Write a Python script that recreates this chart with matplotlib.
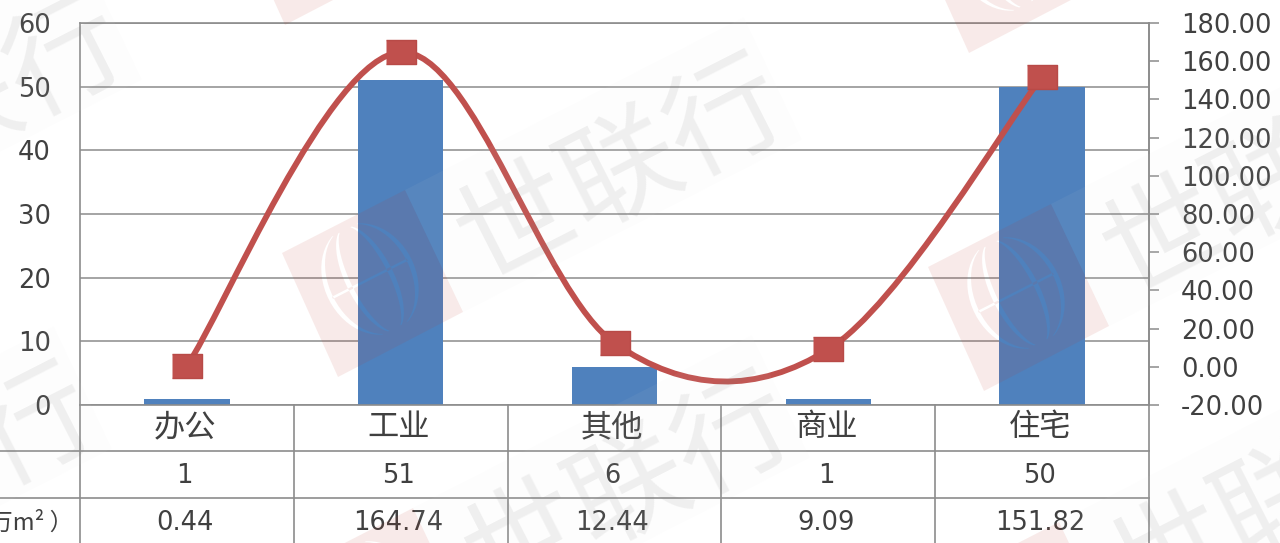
import numpy as np
import matplotlib
matplotlib.use('Agg')
import matplotlib.pyplot as plt
from matplotlib.path import Path
from matplotlib.patches import PathPatch

plt.rcParams['font.family'] = ['DejaVu Sans', 'Noto Sans CJK SC']

categories = ['办公', '工业', '其他', '商业', '住宅']
counts = [1, 51, 6, 1, 50]
areas = [0.44, 164.74, 12.44, 9.09, 151.82]
area_labels = ['0.44', '164.74', '12.44', '9.09', '151.82']
left_ticks = [0, 10, 20, 30, 40, 50, 60]
right_ticks = [-20, 0, 20, 40, 60, 80, 100, 120, 140, 160, 180]
area_title = '成交面积（万m² ）'

W, H = 1280, 543
GRAY = '#8c8c8c'
TEXT = '#404040'
CJK = ['Noto Sans CJK SC', 'DejaVu Sans']

fig = plt.figure(figsize=(W / 100, H / 100), dpi=100)
ax = fig.add_axes([80 / W, 1 - 405 / H, (1149 - 80) / W, (405 - 23) / H])

x = np.arange(len(categories))
ax.bar(x, counts, width=0.4, color='#4f81bd', zorder=2)
ax.set_xlim(-0.5, 4.5)
ax.set_ylim(0, 60)
ax.set_yticks(left_ticks)
ax.set_xticks([])
ax.grid(axis='y', color=GRAY, lw=1.1, zorder=1)
ax.tick_params(axis='y', length=0, pad=21, labelsize=18.5, labelcolor=TEXT)
for s in ax.spines.values():
    s.set_color(GRAY)
    s.set_linewidth(1.2)

ax2 = ax.twinx()
ax2.set_ylim(-20, 180)
ax2.set_yticks(right_ticks)
ax2.set_yticklabels(['%.2f' % t for t in right_ticks])
ax2.tick_params(axis='y', length=7, width=1.1, color=GRAY, pad=16,
                labelsize=18.5, labelcolor=TEXT)
for s in ax2.spines.values():
    s.set_visible(False)
ax2.spines['right'].set_visible(True)
ax2.spines['right'].set_color(GRAY)
ax2.spines['right'].set_linewidth(1.2)


# smoothed line like excel does it
def smooth_path(xs, ys):
    pts = np.column_stack([xs, ys]).astype(float)
    verts = [pts[0]]
    codes = [Path.MOVETO]
    n = len(pts)
    for i in range(n - 1):
        prev = pts[max(i - 1, 0)]
        nxt = pts[min(i + 2, n - 1)]
        verts += [pts[i] + (pts[i + 1] - prev) / 6, pts[i + 1] - (nxt - pts[i]) / 6, pts[i + 1]]
        codes += [Path.CURVE4] * 3
    return Path(verts, codes)


ax2.add_patch(PathPatch(smooth_path(x, areas), fc='none', ec='#c0504d', lw=4.2, zorder=3))
marker = [(-1.3, -1), (1.3, -1), (1.3, 1), (-1.3, 1)]
ax2.plot(x, areas, ls='none', marker=marker, ms=22, color='#c0504d', mec='#b84a47', zorder=4)

# data table under the plot
trans = ax.get_xaxis_transform()
row_y = [(405 - py) / 382 for py in (427, 476, 523)]
for xi, c, n, a in zip(x, categories, counts, area_labels):
    ax.text(xi - 0.01, row_y[0], c, transform=trans, ha='center', va='center', fontsize=22.5,
            color=TEXT, family=CJK, clip_on=False)
    ax.text(xi - 0.01, row_y[1], str(n), transform=trans, ha='center', va='center', fontsize=18.5,
            color=TEXT)
    ax.text(xi - 0.01, row_y[2], a, transform=trans, ha='center', va='center', fontsize=18.5,
            color=TEXT)
ax.text(-0.53, row_y[2], area_title, transform=trans, ha='right', va='center', fontsize=17,
        color=TEXT, family=CJK, clip_on=False)
for v in np.arange(-0.5, 5):
    ax.plot([v, v], [0, -0.36], transform=trans, color=GRAY, lw=1.2, clip_on=False)
for py in (451, 498):
    yy = (405 - py) / 382
    ax.plot([-0.88, 4.5], [yy, yy], transform=trans, color=GRAY, lw=1.2, clip_on=False)

# watermark tiles over everything
wm = fig.add_axes([0, 0, 1, 1], zorder=10)
wm.set_xlim(0, W)
wm.set_ylim(H, 0)
wm.axis('off')
wm.patch.set_alpha(0)

ang = np.radians(27)
U = np.array([np.cos(ang), -np.sin(ang)])
V = np.array([np.sin(ang), np.cos(ang)])


def area2(p):
    p = np.asarray(p)
    return np.sum(p[:, 0] * np.roll(p[:, 1], -1) - np.roll(p[:, 0], -1) * p[:, 1])


def ring(points, want_positive):
    points = list(points)
    if (area2(points) > 0) != want_positive:
        points = points[::-1]
    return points + [points[0]]


def tile(dx, dy):
    o = np.array([dx, dy], float)
    corners = [np.array(c, float) + o for c in [(282, 253), (405, 190), (463, 312), (338, 377)]]
    c = o + np.array([370, 279])
    verts = ring(corners, True)
    codes = [Path.MOVETO] + [Path.LINETO] * (len(verts) - 2) + [Path.CLOSEPOLY]
    # globe is cut out of the tile
    t = np.linspace(-1.25, 1.25, 24)
    holes = []
    for side in (-1, 1):
        for a, w in ((46, 5), (24, 5)):
            outer = [c + U * side * a * np.cos(k) + V * 58 * np.sin(k) for k in t]
            inner = [c + U * side * (a - w) * np.cos(k) + V * 58 * np.sin(k) for k in t[::-1]]
            holes.append(outer + inner)
    holes.append([c + U * -42 - V * 1.5, c + U * 42 - V * 1.5, c + U * 42 + V * 1, c + U * -42 + V * 1])
    for h in holes:
        r = ring(h, False)
        verts += r
        codes += [Path.MOVETO] + [Path.LINETO] * (len(r) - 2) + [Path.CLOSEPOLY]
    wm.add_patch(PathPatch(Path(verts, codes), fc='#c0392b', ec='none', alpha=0.1))
    band = [corners[1], corners[1] + U * 380, corners[2] + U * 380, corners[2]]
    wm.fill(*zip(*band), color='#dddddd', alpha=0.06, lw=0)
    wm.text(622 + dx, 172 + dy, '世联行', rotation=27, ha='center', va='center', fontsize=84,
            color='#777777', alpha=0.1, family=CJK, clip_on=True)


for dx, dy in [(0, 0), (646, 14), (-53, -352), (631, -324), (8, 318), (654, 332), (-660, -60), (-690, 309)]:
    tile(dx, dy)
wm.set_xlim(0, W)
wm.set_ylim(H, 0)

fig.savefig('out.png', dpi=100)
